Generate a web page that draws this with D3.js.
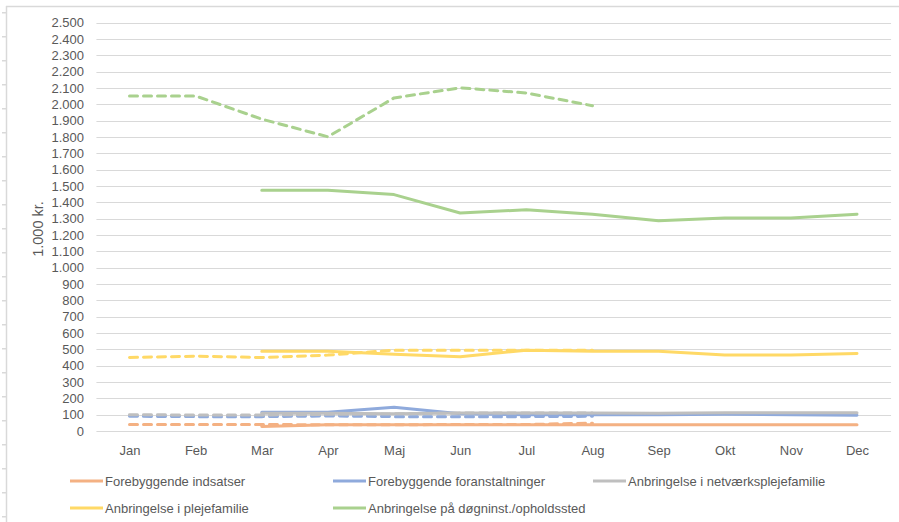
<!DOCTYPE html>
<html>
<head>
<meta charset="utf-8">
<script src="https://cdn.jsdelivr.net/npm/d3@7"></script>
<style>
  html, body { margin: 0; padding: 0; background: #fff; }
  svg { display: block; }
  text { font-family: "Liberation Sans", Arial, sans-serif; fill: #595959; }
</style>
</head>
<body>
<svg id="chart" width="899" height="522"></svg>
<script>
// ---- data ----
const months = ["Jan","Feb","Mar","Apr","Maj","Jun","Jul","Aug","Sep","Okt","Nov","Dec"];
const yTicks = d3.range(0, 2501, 100);
const seriesNames = [
  "Forebyggende indsatser",
  "Forebyggende foranstaltninger",
  "Anbringelse i netværksplejefamilie",
  "Anbringelse i plejefamilie",
  "Anbringelse på døgninst./opholdssted"
];
const seriesColors = ["#F4B183", "#8FAADC", "#BFBFBF", "#FFD966", "#A9D18E"];

// current year (solid), Mar-Dec
const curOrange = [null, null, 28, 38, 38, 38, 38, 38, 38, 38, 38, 38];
const curBlue   = [null, null, 115, 115, 145, 105, 100, 100, 100, 102, 100, 97];
const curGrey   = [null, null, 108, 108, 105, 110, 110, 110, 108, 112, 112, 112];
const curYellow = [null, null, 488, 488, 470, 455, 495, 488, 488, 465, 465, 475];
const curGreen  = [null, null, 1475, 1475, 1448, 1335, 1355, 1328, 1288, 1305, 1305, 1328];

// previous year (dashed), Jan-Aug
const prevOrange = [40, 40, 40, 38, 38, 40, 40, 48];
const prevBlue   = [90, 88, 88, 92, 88, 88, 88, 90];
const prevGrey   = [100, 98, 98, 102, 105, 110, 110, 110];
const prevYellow = [450, 458, 450, 465, 495, 495, 495, 495];
const prevGreen  = [2052, 2052, 1910, 1802, 2040, 2102, 2070, 1992];

const solidSeries = [curOrange, curBlue, curGrey, curYellow, curGreen];
const dashedSeries = [prevOrange, prevBlue, prevGrey, prevYellow, prevGreen];

// ---- drawing ----
const svg = d3.select("#chart");
const W = 899, H = 522;

// frame (spreadsheet edges)
svg.append("line").attr("x1", 6.5).attr("x2", 6.5).attr("y1", 6).attr("y2", H)
  .attr("stroke", "#d9d9d9").attr("stroke-width", 1.5);
svg.append("line").attr("x1", 6).attr("x2", W).attr("y1", 6.5).attr("y2", 6.5)
  .attr("stroke", "#d9d9d9").attr("stroke-width", 1.5);
svg.append("g").selectAll("rect").data(d3.range(12, H, 24)).join("rect")
  .attr("x", 2).attr("y", d => d).attr("width", 4).attr("height", 1.5)
  .attr("fill", "#d9d9d9");

const x = d3.scalePoint().domain(months).range([129.5, 857]);
const step = x.step();
const y = d3.scaleLinear().domain([0, 2500]).range([431, 22.8]);
const fmt = v => d3.format(",")(v).replace(/,/g, ".");

// gridlines
svg.append("g").selectAll("line").data(yTicks).join("line")
  .attr("x1", x.range()[0] - step / 2).attr("x2", x.range()[1] + step / 2 + 1)
  .attr("y1", d => Math.round(y(d)) + 0.5).attr("y2", d => Math.round(y(d)) + 0.5)
  .attr("stroke", "#d9d9d9").attr("stroke-width", 1);

// y axis labels
const yAxis = d3.axisLeft(y).tickValues(yTicks).tickFormat(fmt).tickSize(0).tickPadding(0);
const gy = svg.append("g").attr("transform", "translate(84,0)").call(yAxis);
gy.select(".domain").remove();
gy.selectAll("text").style("font-size", "13px").attr("fill", "#595959")
  .style("font-family", "'Liberation Sans', Arial, sans-serif");

// x axis labels
const xAxis = d3.axisBottom(x).tickSize(0).tickPadding(0);
const gx = svg.append("g").attr("transform", "translate(0,446)").call(xAxis);
gx.select(".domain").remove();
gx.selectAll("text").style("font-size", "13px").attr("fill", "#595959")
  .style("font-family", "'Liberation Sans', Arial, sans-serif");

// y axis title
svg.append("text")
  .attr("transform", "translate(43,229) rotate(-90)")
  .attr("text-anchor", "middle")
  .style("font-size", "14.5px")
  .text("1.000 kr.");

const line = d3.line()
  .defined(d => d != null)
  .x((d, i) => x(months[i]))
  .y(d => y(d));

// solid lines
solidSeries.forEach((s, i) => {
  svg.append("path").datum(s)
    .attr("d", line)
    .attr("fill", "none")
    .attr("stroke", seriesColors[i])
    .attr("stroke-width", 3)
    .attr("stroke-linejoin", "round")
    .attr("stroke-linecap", "round");
});

// dashed lines
dashedSeries.forEach((s, i) => {
  svg.append("path").datum(s)
    .attr("d", line)
    .attr("fill", "none")
    .attr("stroke", seriesColors[i])
    .attr("stroke-width", 3)
    .attr("stroke-dasharray", "8,6")
    .attr("stroke-linejoin", "round")
    .attr("stroke-linecap", "round");
});

// legend
const legendPos = [[70, 481], [333, 481], [593, 481], [70, 508], [333, 508]];
const lg = svg.append("g");
seriesNames.forEach((name, i) => {
  const [lx, ly] = legendPos[i];
  lg.append("line").attr("x1", lx).attr("x2", lx + 33).attr("y1", ly).attr("y2", ly)
    .attr("stroke", seriesColors[i]).attr("stroke-width", 3);
  lg.append("text").attr("x", lx + 35).attr("y", ly).attr("dy", "0.35em")
    .style("font-size", "13px").text(name);
});
</script>
</body>
</html>
